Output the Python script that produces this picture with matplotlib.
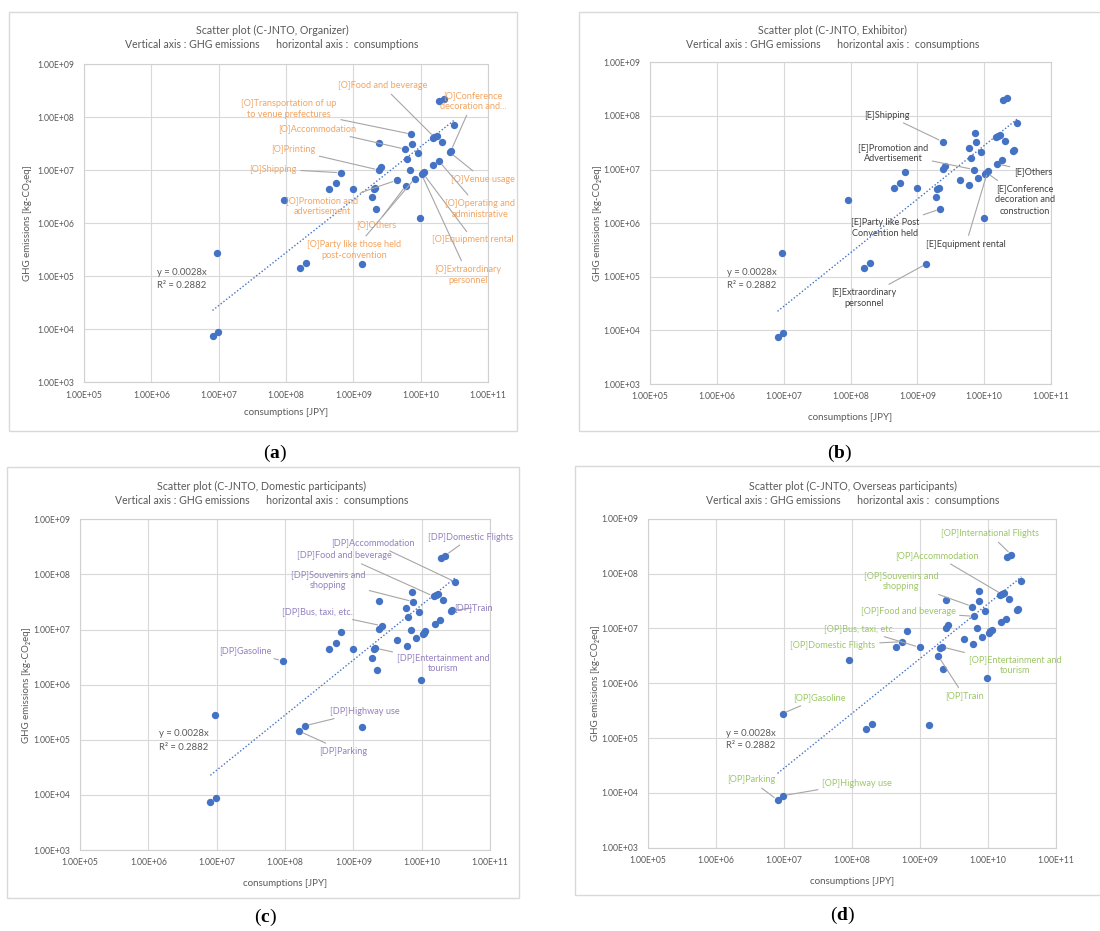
import matplotlib
matplotlib.use("Agg")
import matplotlib.pyplot as plt
from matplotlib.patches import Rectangle
import numpy as np

plt.rcParams['font.family'] = ['Lato', 'DejaVu Sans']
plt.rcParams['mathtext.fontset'] = 'custom'
plt.rcParams['mathtext.rm'] = 'Liberation Serif'
plt.rcParams['mathtext.bf'] = 'Liberation Serif:bold'

# ---------------- data ----------------
consumption_jpy = [1.9e10, 2.2e10, 3.1e10, 7.3e9, 1.5e10, 1.6e10, 1.75e10, 2.05e10, 7.5e9, 2.4e9,
                   5.9e9, 9.1e9, 2.7e10, 2.8e10, 6.3e9, 1.55e10, 1.86e10, 2.6e9, 2.4e9, 7.0e9,
                   1.13e10, 1.08e10, 1.03e10, 6.5e8, 4.4e9, 8.2e9, 6.0e9, 5.5e8, 4.4e8, 9.9e8,
                   2.0e9, 2.1e9, 1.87e9, 9.2e7, 2.2e9, 9.8e9, 9.6e6, 1.6e8, 1.95e8, 1.36e9,
                   8.1e6, 9.8e6]
ghg_emissions = [2.0e8, 2.2e8, 7.3e7, 4.8e7, 4.0e7, 4.2e7, 4.4e7, 3.4e7, 3.2e7, 3.3e7,
                 2.5e7, 2.1e7, 2.2e7, 2.3e7, 1.66e7, 1.28e7, 1.5e7, 1.17e7, 1.01e7, 1.0e7,
                 9.3e6, 8.8e6, 8.4e6, 9.0e6, 6.5e6, 7.0e6, 5.1e6, 5.7e6, 4.5e6, 4.5e6,
                 4.4e6, 4.6e6, 3.1e6, 2.7e6, 1.84e6, 1.24e6, 2.8e5, 1.44e5, 1.79e5, 1.74e5,
                 7.4e3, 8.9e3]
trend_slope = 0.0028
trend_r2 = 0.2882

panel_names = ["Organizer", "Exhibitor", "Domestic participants", "Overseas participants"]
panel_letters = ["a", "b", "c", "d"]

labels_a = ["[O]Food and beverage", "[O]Conference\ndecoration and...",
            "[O]Transportation of up\nto venue prefectures", "[O]Accommodation",
            "[O]Printing", "[O]Shipping", "[O]Promotion and\nadvertisement", "[O]Others",
            "[O]Party like those held\npost-convention", "[O]Equipment rental",
            "[O]Extraordinary\npersonnel", "[O]Venue usage", "[O]Operating and\nadministrative"]
targets_a = [5, 13, 3, 10, 18, 23, 24, 26, 25, 21, 22, 12, 16]

labels_b = ["[E]Shipping", "[E]Promotion and\nAdvertisement", "[E]Others",
            "[E]Conference\ndecoration and\nconstruction", "[E]Party like Post\nConvention held",
            "[E]Equipment rental", "[E]Extraordinary\npersonnel"]
targets_b = [9, 19, 15, 21, 34, 20, 39]

labels_c = ["[DP]Domestic Flights", "[DP]Accommodation", "[DP]Food and beverage",
            "[DP]Souvenirs and\nshopping", "[DP]Train", "[DP]Bus, taxi, etc.", "[DP]Gasoline",
            "[DP]Entertainment and\ntourism", "[DP]Highway use", "[DP]Parking"]
targets_c = [1, 2, 4, 8, 12, 17, 33, 31, 38, 37]

labels_d = ["[OP]International Flights", "[OP]Accommodation", "[OP]Souvenirs and\nshopping",
            "[OP]Food and beverage", "[OP]Bus, taxi, etc.", "[OP]Domestic Flights",
            "[OP]Entertainment and\ntourism", "[OP]Train", "[OP]Gasoline", "[OP]Parking",
            "[OP]Highway use"]
targets_d = [1, 5, 10, 14, 29, 27, 31, 32, 36, 40, 41]

x_ticks = [1e5, 1e6, 1e7, 1e8, 1e9, 1e10, 1e11]
y_ticks = [1e3, 1e4, 1e5, 1e6, 1e7, 1e8, 1e9]

# ---------------- layout (pixels) ----------------
W, H = 1100, 931
fig = plt.figure(figsize=(W / 100, H / 100), dpi=100)
fig.patch.set_facecolor("white")


def fx(px):
    return px / W


def fy(py):
    return 1 - py / H


axes_px = [(84, 64.3, 488, 382.3), (650, 62.3, 1051, 384),
           (80, 519.3, 490, 850), (647.7, 518.7, 1056, 847.7)]
frames_px = [(9, 12, 517, 431), (579, 12, 1110, 431), (7, 467, 519, 898), (575, 466, 1110, 895)]
title_px = [(272, 30), (833, 30), (262, 486), (853, 486)]
ylabel_x = [28, 598, 27, 595]
xlabel_y = [412, 417, 883, 881]
eq_px = [(157, 273), (727, 272), (159, 734), (726, 733)]
letter_px = [(275, 453), (840, 453), (265, 917), (843, 915)]

label_pos = [
    [(383, 86), (473, 101), (289, 109), (317, 129), (293, 150), (273, 169), (322, 206),
     (376, 225), (354, 250), (473, 240), (468, 275), (483, 179), (480, 209)],
    [(887, 115), (893, 153), (1033, 172), (1025, 200), (885, 228), (966, 244), (864, 298)],
    [(471, 537), (373, 543), (344, 556), (328, 580), (473, 608), (317, 612), (245, 651),
     (443, 663), (365, 711), (343, 751)],
    [(990, 534), (937, 556), (901, 581), (908, 612), (859, 629), (833, 645), (1015, 665),
     (964, 696), (819, 698), (751, 780), (857, 783)],
]
label_colors = ["#F4A460", "#404040", "#9480C0", "#9CC766"]
all_labels = [labels_a, labels_b, labels_c, labels_d]
all_targets = [targets_a, targets_b, targets_c, targets_d]

marker_color = "#4472C4"
grid_color = "#D9D9D9"
text_gray = "#595959"
leader_color = "#A6A6A6"

for i in range(4):
    # frame
    l, t, r, b = frames_px[i]
    fig.patches.append(Rectangle((fx(l), fy(b)), (r - l) / W, (b - t) / H,
                                 transform=fig.transFigure, fill=False,
                                 edgecolor="#D9D9D9", lw=1.0))
    al, at, ar, ab = axes_px[i]
    ax = fig.add_axes([fx(al), fy(ab), (ar - al) / W, (ab - at) / H])
    ax.set_xscale("log")
    ax.set_yscale("log")
    ax.set_xlim(1e5, 1e11)
    ax.set_ylim(1e3, 1e9)
    ax.set_xticks(x_ticks)
    ax.set_yticks(y_ticks)
    ax.set_xticklabels([f"{v:.2E}" for v in x_ticks])
    ax.set_yticklabels([f"{v:.2E}" for v in y_ticks])
    ax.minorticks_off()
    ax.tick_params(length=0, labelsize=6.2, labelcolor=text_gray)
    ax.tick_params(axis="y", pad=7)
    ax.tick_params(axis="x", pad=6)
    ax.grid(True, color=grid_color, lw=0.8)
    ax.set_axisbelow(True)
    for s in ax.spines.values():
        s.set_color("#D0D0D0")
        s.set_linewidth(0.8)

    ax.scatter(consumption_jpy, ghg_emissions, s=28, color=marker_color, zorder=3, lw=0)
    xs = np.array([min(consumption_jpy), max(consumption_jpy)])
    ax.plot(xs, trend_slope * xs, color=marker_color, lw=1.0,
            linestyle=(0, (1, 1.5)), zorder=2)

    # titles
    tx, ty = title_px[i]
    fig.text(fx(tx), fy(ty), f"Scatter plot (C-JNTO, {panel_names[i]})",
             ha="center", va="center", fontsize=7.7, color=text_gray)
    fig.text(fx(tx), fy(ty + 15),
             "Vertical axis : GHG emissions      horizontal axis :  consumptions",
             ha="center", va="center", fontsize=7.6, color=text_gray)
    # axis labels
    fig.text(fx(ylabel_x[i]), fy((at + ab) / 2), "GHG emissions [kg-CO₂eq]",
             rotation=90, ha="center", va="center", fontsize=7, color=text_gray)
    fig.text(fx((al + ar) / 2), fy(xlabel_y[i]), "consumptions [JPY]",
             ha="center", va="center", fontsize=7, color=text_gray)
    # equation
    ex, ey = eq_px[i]
    fig.text(fx(ex), fy(ey), f"y = {trend_slope}x", ha="left", va="center",
             fontsize=6.8, color=text_gray)
    fig.text(fx(ex), fy(ey + 13), f"R² = {trend_r2}", ha="left", va="center",
             fontsize=6.8, color=text_gray)
    # panel letter
    lx, ly = letter_px[i]
    fig.text(fx(lx), fy(ly), rf"($\mathbf{{{panel_letters[i]}}}$)", ha="center",
             va="center", fontsize=14, family="Liberation Serif", color="black")

    # data labels with leader lines
    for name, tgt, (px, py) in zip(all_labels[i], all_targets[i], label_pos[i]):
        ax.annotate(name, xy=(consumption_jpy[tgt], ghg_emissions[tgt]), xycoords="data",
                    xytext=(fx(px), fy(py)), textcoords="figure fraction",
                    ha="center", va="center", multialignment="center",
                    fontsize=6.6, color=label_colors[i], linespacing=1.35,
                    annotation_clip=False, zorder=4,
                    arrowprops=dict(arrowstyle="-", color=leader_color, lw=0.8,
                                    shrinkA=1, shrinkB=3))

fig.savefig("out.png", dpi=100, facecolor="white")
